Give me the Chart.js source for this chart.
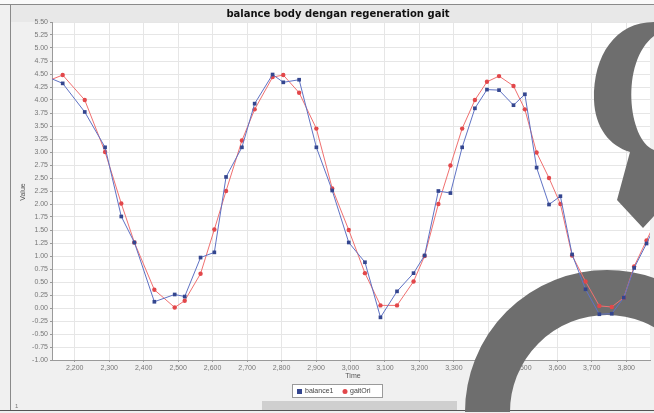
<!DOCTYPE html>
<html>
<head>
<meta charset="utf-8">
<script src="https://cdn.jsdelivr.net/npm/chart.js@4.4.1/dist/chart.umd.min.js"></script>
<style>
  html, body { margin: 0; padding: 0; background: #f0f0f0; overflow: hidden; }
  canvas { display: block; }
</style>
</head>
<body>
<canvas id="gait_chart" width="654" height="413"></canvas>
<script>
// data (time in ms, value)
const times = [2100, 2165, 2229, 2288, 2335, 2373, 2431, 2490, 2519, 2565, 2605, 2639, 2685, 2722, 2774,
  2805, 2851, 2901, 2947, 2995, 3042, 3087, 3135, 3183, 3215, 3255, 3290, 3324, 3361, 3396,
  3431, 3473, 3506, 3540, 3576, 3609, 3643, 3682, 3722, 3758, 3793, 3823, 3859, 3895];
const balance1 = [4.50, 4.32, 3.77, 3.09, 1.76, 1.26, 0.12, 0.26, 0.22, 0.97, 1.07, 2.52, 3.09, 3.93, 4.49,
  4.34, 4.39, 3.09, 2.26, 1.26, 0.88, -0.18, 0.32, 0.67, 1.01, 2.25, 2.21, 3.09, 3.84, 4.20,
  4.19, 3.90, 4.11, 2.70, 1.99, 2.15, 1.03, 0.36, -0.12, -0.11, 0.20, 0.77, 1.24, 1.75];
const gaitOri = [4.31, 4.48, 4.00, 3.00, 2.01, 1.26, 0.35, 0.01, 0.14, 0.66, 1.51, 2.25, 3.22, 3.82, 4.44,
  4.48, 4.14, 3.45, 2.30, 1.50, 0.67, 0.05, 0.05, 0.51, 1.00, 2.00, 2.74, 3.45, 4.00, 4.35,
  4.46, 4.27, 3.82, 2.99, 2.50, 2.00, 1.01, 0.51, 0.04, 0.02, 0.20, 0.80, 1.30, 1.80];
const seriesNames = ["balance1", "gaitOri"];
const xTicks = [2200, 2300, 2400, 2500, 2600, 2700, 2800, 2900, 3000, 3100, 3200, 3300, 3400, 3500, 3600, 3700, 3800];
const yTicks = [5.50, 5.25, 5.00, 4.75, 4.50, 4.25, 4.00, 3.75, 3.50, 3.25, 3.00, 2.75, 2.50, 2.25, 2.00,
  1.75, 1.50, 1.25, 1.00, 0.75, 0.50, 0.25, 0.00, -0.25, -0.50, -0.75, -1.00];

const FONT = "'Liberation Sans', Arial, sans-serif";
const BLUE_LINE = "#5f72c4", BLUE_PT = "#34468f";
const RED_LINE = "#f07070", RED_PT = "#e2474a";

// window frame, title, legend
const framePlugin = {
  id: "frame",
  beforeDraw(chart) {
    const { ctx, chartArea } = chart;
    const W = chart.width, H = chart.height;
    ctx.save();
    ctx.fillStyle = "#f0f0f0";
    ctx.fillRect(0, 0, W, H);
    ctx.fillStyle = "#fafafa";
    ctx.fillRect(0, 0, W, 4);
    // title band
    ctx.fillStyle = "#e8e8e8";
    ctx.fillRect(10, 5, W - 10, 17);
    ctx.strokeStyle = "#8a8a8a";
    ctx.lineWidth = 1;
    ctx.beginPath();
    ctx.moveTo(0, 4.5); ctx.lineTo(W, 4.5);
    ctx.moveTo(10.5, 5); ctx.lineTo(10.5, 410);
    ctx.stroke();
    ctx.fillStyle = "#111";
    ctx.font = "bold 10px 'DejaVu Sans', Verdana, sans-serif";
    ctx.textAlign = "center";
    ctx.textBaseline = "middle";
    ctx.fillText("balance body dengan regeneration gait", 338, 14);

    // plot background
    ctx.fillStyle = "#ffffff";
    ctx.fillRect(chartArea.left, chartArea.top, chartArea.right - chartArea.left, chartArea.bottom - chartArea.top);

    // axis titles
    ctx.fillStyle = "#555";
    ctx.font = "7px " + FONT;
    ctx.fillText("Time", 353, 376);
    ctx.save();
    ctx.translate(23, 192);
    ctx.rotate(-Math.PI / 2);
    ctx.fillText("Value", 0, 0);
    ctx.restore();

    // legend
    ctx.fillStyle = "#ffffff";
    ctx.fillRect(292, 384, 91, 14);
    ctx.strokeStyle = "#9a9a9a";
    ctx.strokeRect(292.5, 384.5, 90, 13);
    ctx.fillStyle = BLUE_PT;
    ctx.fillRect(297, 389, 5, 5);
    ctx.fillStyle = RED_PT;
    ctx.beginPath();
    ctx.arc(345, 391.5, 2.5, 0, Math.PI * 2);
    ctx.fill();
    ctx.fillStyle = "#444";
    ctx.textAlign = "left";
    ctx.fillText(seriesNames[0], 305, 391.5);
    ctx.fillText(seriesNames[1], 350, 391.5);

    // bottom bar
    ctx.fillStyle = "#cfcfcf";
    ctx.fillRect(262, 401, 195, 9);
    ctx.strokeStyle = "#555";
    ctx.beginPath();
    ctx.moveTo(0, 410.5); ctx.lineTo(W, 410.5);
    ctx.stroke();
    ctx.fillStyle = "#777";
    ctx.font = "6px " + FONT;
    ctx.fillText("1", 15, 406);
    ctx.restore();
  },
  // big grey overlay shapes (under the lines, over the axes)
  beforeDatasetsDraw(chart) {
    const { ctx } = chart;
    ctx.save();
    ctx.fillStyle = "#6e6e6e";
    ctx.beginPath();
    ctx.moveTo(654, 22);
    ctx.bezierCurveTo(616, 22, 593, 55, 594, 100);
    ctx.bezierCurveTo(595, 128, 610, 146, 630, 152);
    ctx.lineTo(617, 200);
    ctx.lineTo(643, 228);
    ctx.lineTo(654, 216);
    ctx.lineTo(654, 150);
    ctx.bezierCurveTo(628, 140, 620, 62, 654, 36);
    ctx.closePath();
    ctx.fill();

    ctx.strokeStyle = "#6e6e6e";
    ctx.lineWidth = 45;
    ctx.beginPath();
    ctx.arc(607, 412, 119.5, Math.PI, Math.PI * 2);
    ctx.stroke();
    ctx.restore();
  },
};

new Chart(document.getElementById("gait_chart"), {
  type: "line",
  data: {
    datasets: [
      {
        label: seriesNames[0],
        data: times.map((t, i) => ({ x: t, y: balance1[i] })),
        borderColor: BLUE_LINE,
        borderWidth: 1,
        pointStyle: "rect",
        pointRadius: 2.6,
        pointBackgroundColor: BLUE_PT,
        pointBorderColor: BLUE_PT,
        pointBorderWidth: 0,
        tension: 0,
      },
      {
        label: seriesNames[1],
        data: times.map((t, i) => ({ x: t, y: gaitOri[i] })),
        borderColor: RED_LINE,
        borderWidth: 1,
        pointStyle: "circle",
        pointRadius: 2.2,
        pointBackgroundColor: RED_PT,
        pointBorderColor: RED_PT,
        pointBorderWidth: 0,
        tension: 0,
      },
    ],
  },
  options: {
    responsive: false,
    animation: false,
    devicePixelRatio: 1,
    layout: { padding: { left: 10, top: 22, right: 0, bottom: 33 } },
    plugins: {
      legend: { display: false },
      title: { display: false },
      tooltip: { enabled: false },
    },
    scales: {
      x: {
        type: "linear",
        min: 2134,
        max: 3869,
        afterBuildTicks: (scale) => { scale.ticks = xTicks.map((v) => ({ value: v })); },
        afterFit: (scale) => { scale.height = 20; },
        grid: { color: "#e6e6e6", tickLength: 2, tickColor: "#999" },
        border: { color: "#9a9a9a" },
        ticks: {
          color: "#777",
          padding: 2,
          maxRotation: 0,
          autoSkip: false,
          font: { size: 7, family: FONT },
          callback: (v) => v.toLocaleString("en-US"),
        },
      },
      y: {
        min: -1.0,
        max: 5.5,
        afterBuildTicks: (scale) => { scale.ticks = yTicks.map((v) => ({ value: v })); },
        afterFit: (scale) => { scale.width = 42; },
        grid: { color: "#e6e6e6", tickLength: 2, tickColor: "#999" },
        border: { color: "#9a9a9a" },
        ticks: {
          color: "#777",
          padding: 2,
          autoSkip: false,
          font: { size: 7, family: FONT },
          callback: (v) => v.toFixed(2),
        },
      },
    },
  },
  plugins: [framePlugin],
});
</script>
</body>
</html>
